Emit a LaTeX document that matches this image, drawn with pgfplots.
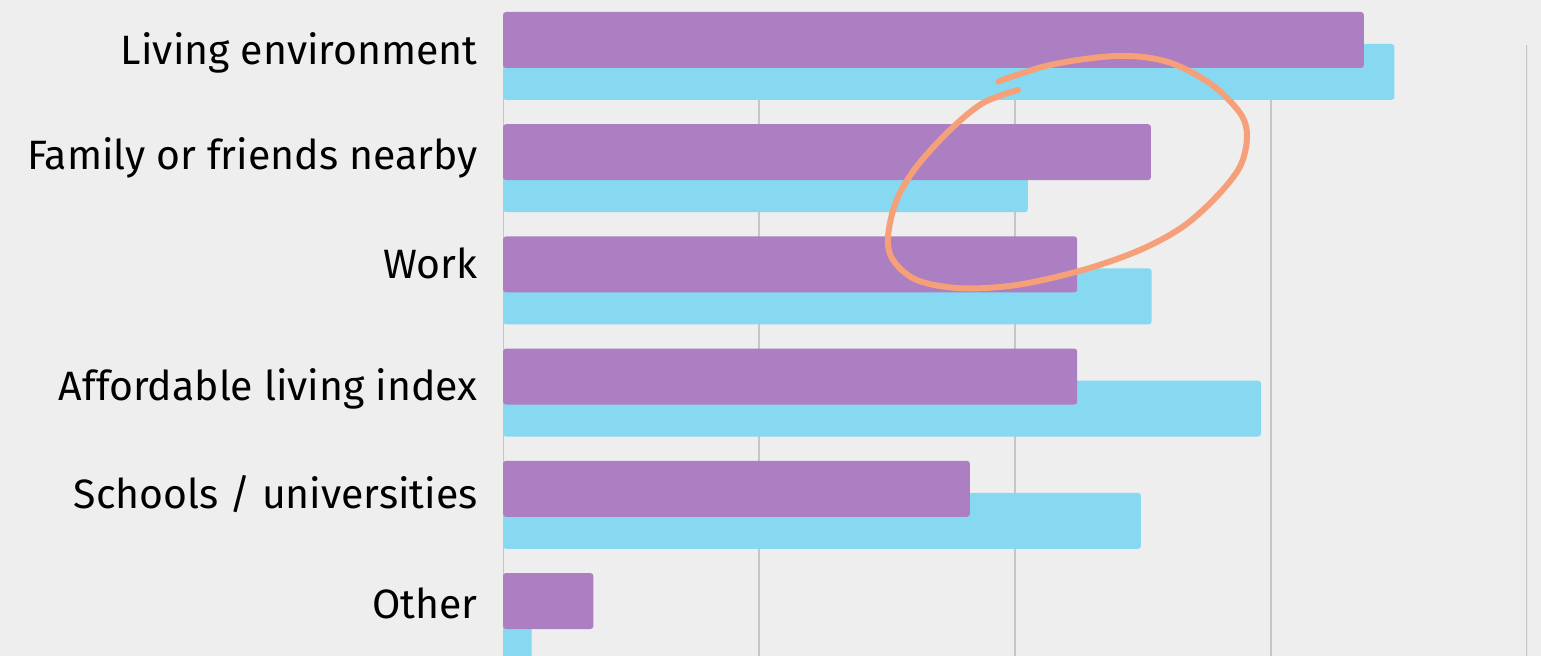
\documentclass[border=0pt]{standalone}
\usepackage{fontspec}
\setmainfont{Fira Sans}
\usepackage{pgfplots}
\usepackage{pgfplotstable}
\pgfplotsset{compat=1.18}
\definecolor{bg}{HTML}{EEEEEE}
\definecolor{purp}{HTML}{AC7EC2}
\definecolor{sky}{HTML}{87D9F2}
\definecolor{gridc}{HTML}{C6C6C6}
\definecolor{ann}{HTML}{F5A078}

% purple series (first bar of each category)
\pgfplotstableread{
y     v
0     33.63
1     25.31
2     22.43
3     22.43
4     18.24
5     3.53
}\purpdata
% light blue series (second bar, shifted down)
\pgfplotstableread{
y      v
0.285  34.82
1.285  20.50
2.285  25.34
3.285  29.61
4.285  24.92
5.285  1.12
}\skydata

\begin{document}
\begin{tikzpicture}
\fill[bg] (0,0) rectangle (770.5pt,328pt);
\begin{axis}[
  at={(251.5pt,0pt)}, anchor=south west,
  scale only axis, width=512pt, height=328pt,
  xmin=0, xmax=40, ymin=-0.3565, ymax=5.490, y dir=reverse,
  axis line style={draw=none},
  tick style={draw=none},
  xtick=\empty,
  ytick={0.214,1.150,2.130,3.209,4.171,5.160},
  yticklabels={Living environment,Family or friends nearby,Work,Affordable living index,Schools / universities,Other},
  yticklabel style={anchor=base east, inner sep=0pt, xshift=-12.5pt, font=\fontsize{20.5}{24}\selectfont, text=black},
]
\foreach \g in {0,10,20,30,40}{
  \edef\tmp{\noexpand\draw[gridc, line width=0.7pt] (axis cs:\g,0.045) -- (axis cs:\g,5.49);}
  \tmp
}
\addplot[xbar, bar width=0.499, bar shift=0pt, fill=sky, draw=none, rounded corners=1.5pt] table[x=v, y=y] {\skydata};
\addplot[xbar, bar width=0.499, bar shift=0pt, fill=purp, draw=none, rounded corners=1.5pt] table[x=v, y=y] {\purpdata};
\end{axis}
\begin{scope}[x=1pt, y=1pt]
\draw[ann, line width=3pt, line cap=round, line join=round] plot[smooth, tension=0.55] coordinates {
 (499.2,287.2) (525,295.5) (558.3,300) (583.3,297.2) (605,286.3) (620,271.5)
 (623.5,259.7) (620,244.7) (608.3,229.7) (591.5,214.7) (570,203) (541.5,193)
 (508.3,185.5) (480,183.9) (458.3,188) (446.5,198) (444,209.7) (448.3,228)
 (458.3,244.7) (475,263) (491.5,276.5) (509,283)};
\end{scope}
\pgfresetboundingbox
\useasboundingbox (0,0) rectangle (770.5pt,328pt);
\end{tikzpicture}
\end{document}
